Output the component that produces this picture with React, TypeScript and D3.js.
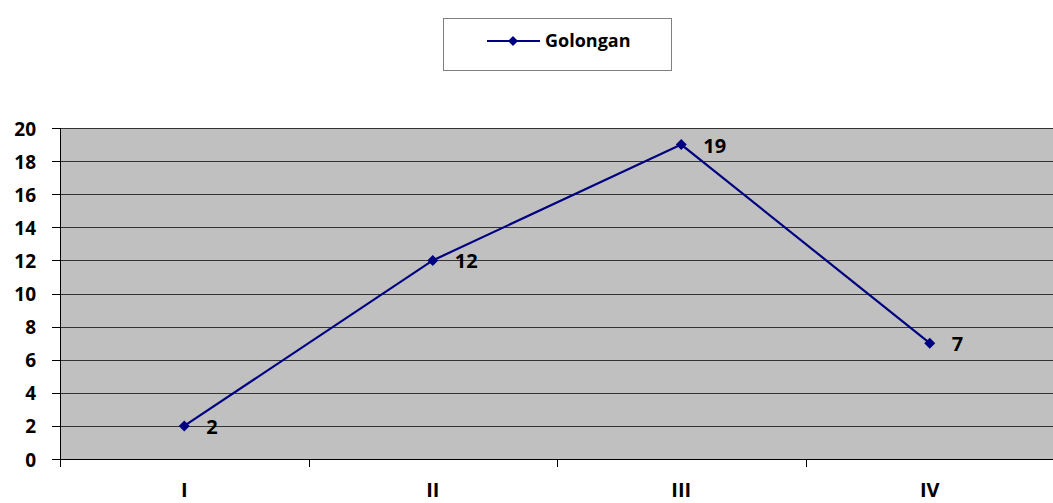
import * as d3 from "d3";

const categories = ["I", "II", "III", "IV"];
const values = [2, 12, 19, 7];
const yTicks = [0, 2, 4, 6, 8, 10, 12, 14, 16, 18, 20];
const seriesName = "Golongan";

const W = 1053;
const H = 503;
const FONT = "'Open Sans', sans-serif";
const NAVY = "#000080";

export default function App() {
  const left = 60;
  const right = 1054;
  const top = 128;
  const bottom = 459;

  const x = d3.scaleBand<string>().domain(categories).range([left, right]);
  const y = d3.scaleLinear().domain([0, 20]).range([bottom, top]);

  const line = d3
    .line<number>()
    .x((_, i) => x(categories[i])! + x.bandwidth() / 2)
    .y((d) => y(d));

  const diamond = (cx: number, cy: number, r: number) =>
    `M${cx},${cy - r}L${cx + r},${cy}L${cx},${cy + r}L${cx - r},${cy}Z`;

  const tickXs = categories.map((c) => x(c)!).concat([right]);

  return (
    <svg
      width={W}
      height={H}
      style={{ position: "absolute", left: 0, top: 0, background: "#fff" }}
    >
      {/* legend */}
      <rect x={443.5} y={18.5} width={228} height={52} fill="#fff" stroke="#808080" />
      <line x1={487} x2={540} y1={41} y2={41} stroke={NAVY} strokeWidth={2} />
      <path d={diamond(513, 41, 5)} fill={NAVY} />
      <text x={545} y={47} fontFamily={FONT} fontWeight="bold" fontSize={18} fill="#000">
        {seriesName}
      </text>

      {/* plot area */}
      <rect x={left} y={top} width={right - left} height={bottom - top} fill="#c0c0c0" />
      {yTicks.slice(1).map((t) => (
        <line
          key={t}
          x1={left}
          x2={right}
          y1={Math.round(y(t)) + 0.5}
          y2={Math.round(y(t)) + 0.5}
          stroke="#333"
          strokeWidth={1}
        />
      ))}

      {/* y axis */}
      <line x1={left + 0.5} x2={left + 0.5} y1={top} y2={bottom + 8} stroke="#000" />
      {yTicks.map((t) => (
        <g key={t}>
          <line
            x1={left - 8}
            x2={left}
            y1={Math.round(y(t)) + 0.5}
            y2={Math.round(y(t)) + 0.5}
            stroke="#000"
          />
          <text
            x={36}
            y={y(t) + 7.5}
            textAnchor="end"
            fontFamily={FONT}
            fontWeight="bold"
            fontSize={19}
            fill="#000"
          >
            {t}
          </text>
        </g>
      ))}

      {/* x axis */}
      <line x1={left} x2={right} y1={bottom + 0.5} y2={bottom + 0.5} stroke="#000" />
      {tickXs.map((tx, i) => (
        <line
          key={i}
          x1={Math.round(tx) + 0.5}
          x2={Math.round(tx) + 0.5}
          y1={bottom}
          y2={bottom + 8}
          stroke="#000"
        />
      ))}
      {categories.map((c) => (
        <text
          key={c}
          x={x(c)! + x.bandwidth() / 2}
          y={497}
          textAnchor="middle"
          fontFamily={FONT}
          fontWeight="bold"
          fontSize={20}
          fill="#000"
        >
          {c}
        </text>
      ))}

      {/* series */}
      <path d={line(values) ?? ""} fill="none" stroke={NAVY} strokeWidth={2.2} />
      {values.map((v, i) => {
        const cx = x(categories[i])! + x.bandwidth() / 2;
        const cy = y(v);
        return (
          <g key={i}>
            <path d={diamond(cx, cy, 5.5)} fill={NAVY} />
            <text
              x={cx + 22}
              y={cy + 8}
              fontFamily={FONT}
              fontWeight="bold"
              fontSize={20}
              fill="#000"
            >
              {v}
            </text>
          </g>
        );
      })}
    </svg>
  );
}
